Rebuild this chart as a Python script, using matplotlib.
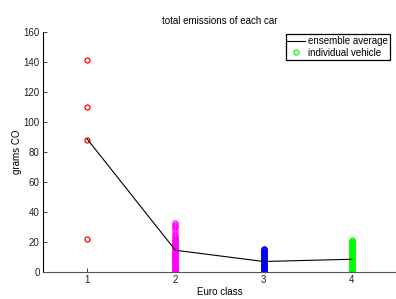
import matplotlib.pyplot as plt

plt.rcParams['font.family'] = ['Liberation Sans', 'DejaVu Sans']

euro_classes = [1, 2, 3, 4]
ensemble_avg = [88.7, 14.5, 7.0, 8.5]

euro1 = [141, 110, 88, 22]
euro2 = [0, 0.5, 1, 1.5, 2, 2.5, 3, 3.5, 4, 4.5, 5, 5.5, 6, 6.5, 7, 7.5, 8, 8.5,
         9, 9.5, 10, 10.5, 11, 11.5, 12, 12.5, 13, 13.5, 14, 14.5, 15, 15.5, 16,
         16.5, 17, 17.5, 18, 18.5, 19, 19.5, 20, 20.5, 21, 21.5, 22, 23, 24,
         25.5, 27, 29, 30.5, 31.5, 32.5]
euro3 = [0, 0.5, 1, 1.5, 2, 2.5, 3, 3.5, 4, 4.5, 5, 5.5, 6, 6.5, 7, 7.5, 8, 8.5,
         9, 9.5, 10, 10.5, 11, 11.5, 12, 12.5, 13, 13.5, 14, 14.5, 15, 15.5]
euro4 = [0, 0.5, 1, 1.5, 2, 2.5, 3, 3.5, 4, 4.5, 5, 5.5, 6, 6.5, 7, 7.5, 8, 8.5,
         9, 9.5, 10, 10.5, 11, 11.5, 12, 12.5, 13, 13.5, 14, 14.5, 15, 15.5, 16,
         16.5, 17, 17.5, 18, 18.5, 19, 19.5, 20, 20.5, 21.5]

groups = [euro1, euro2, euro3, euro4]
colors = ['#ff0000', '#ff00ff', '#0000ff', '#00ff00']

fig = plt.figure(figsize=(3.96, 2.99), dpi=100)
ax = fig.add_axes([0.1086, 0.0903, 0.8914, 0.8027])

for cls, vals, col in zip(euro_classes, groups, colors):
    lbl = 'individual vehicle' if cls == 4 else None
    ax.plot([cls] * len(vals), vals, 'o', mfc='none', mec=col,
            ms=3.6, mew=0.9, label=lbl, zorder=2)

ax.plot(euro_classes, ensemble_avg, color='black', lw=0.8,
        label='ensemble average', zorder=3)

ax.set_xlim(0.5, 4.5)
ax.set_ylim(0, 160)
ax.set_xticks(euro_classes)
ax.set_yticks(range(0, 161, 20))
ax.tick_params(direction='in', length=3, labelsize=7, colors='#222222',
               width=0.6, pad=2.5)
ax.spines['top'].set_visible(False)
ax.spines['right'].set_visible(False)
ax.spines['left'].set_linewidth(0.8)
ax.spines['bottom'].set_linewidth(0.8)
ax.spines['bottom'].set_color('#555555')
ax.set_xlabel('Euro class', fontsize=7, labelpad=1)
ax.set_ylabel('grams CO', fontsize=7, labelpad=1)
ax.set_title('total emissions of each car', fontsize=7, pad=6)

handles, labels = ax.get_legend_handles_labels()
order = [labels.index('ensemble average'), labels.index('individual vehicle')]
leg = ax.legend([handles[i] for i in order], [labels[i] for i in order],
                loc='upper right', bbox_to_anchor=(0.985, 0.995), fontsize=7,
                fancybox=False, edgecolor='black', framealpha=1,
                borderpad=0.2, handlelength=1.8, handletextpad=0.3,
                labelspacing=0.15, borderaxespad=0.1)
leg.get_frame().set_linewidth(0.9)

fig.savefig('out.png', dpi=100)
